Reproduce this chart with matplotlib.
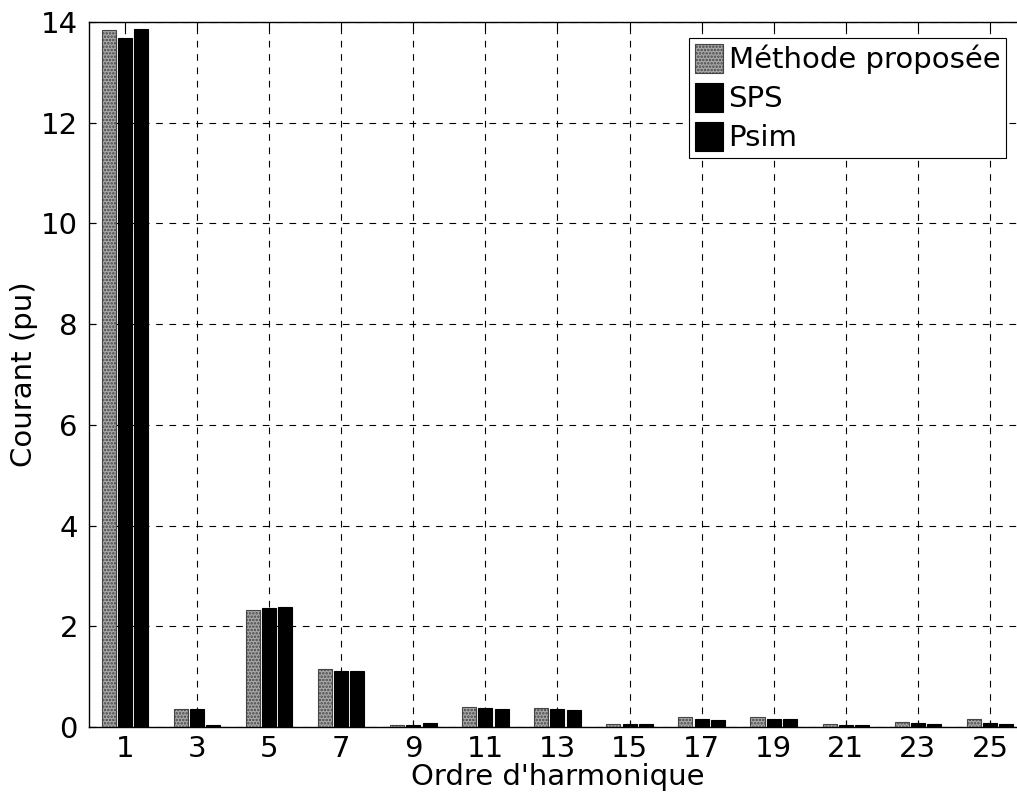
import numpy as np
import matplotlib
matplotlib.use('Agg')
import matplotlib.pyplot as plt

# =============================================================================
# Data
# =============================================================================
HARMONICS = [1, 3, 5, 7, 9, 11, 13, 15, 17, 19, 21, 23, 25]
METHODE = [13.85, 0.36, 2.33, 1.16, 0.03, 0.40, 0.37, 0.06, 0.20, 0.20, 0.06, 0.10, 0.15]
SPS = [13.69, 0.36, 2.37, 1.11, 0.04, 0.37, 0.35, 0.05, 0.16, 0.15, 0.04, 0.07, 0.08]
PSIM = [13.87, 0.04, 2.39, 1.11, 0.07, 0.35, 0.34, 0.05, 0.14, 0.15, 0.04, 0.06, 0.06]
LABELS = ['Méthode proposée', 'SPS', 'Psim']

# =============================================================================
# Plot
# =============================================================================
plt.rcParams['font.family'] = ['DejaVu Sans']
plt.rcParams['hatch.linewidth'] = 1.2

fig = plt.figure(figsize=(10.17, 7.98), dpi=100)
# right edge of the axes runs past the picture, as in the reference
ax = fig.add_axes([0.0875, 0.089, 0.9213, 0.8834])

x = np.array(HARMONICS, dtype=float)
offset = 0.45
width = 0.39
ax.bar(x - offset, METHODE, width, facecolor='#a8a8a8', edgecolor='#454545',
       hatch='.....', linewidth=0.8, label=LABELS[0], zorder=3)
ax.bar(x, SPS, width, color='black', edgecolor='black', linewidth=0.8,
       label=LABELS[1], zorder=3)
ax.bar(x + offset, PSIM, width, color='black', edgecolor='black', linewidth=0.8,
       label=LABELS[2], zorder=3)

ax.set_xlim(0, 26)
ax.set_ylim(0, 14)
ax.set_xticks(HARMONICS)
ax.set_yticks(np.arange(0, 15, 2))
ax.tick_params(direction='in', top=True, right=True, labelsize=21, length=5)
ax.tick_params(axis='x', pad=6)
ax.tick_params(axis='y', pad=8)
ax.grid(True, color='black', linestyle=(0, (6, 6)), linewidth=0.8, zorder=0)
ax.set_axisbelow(True)
for s in ax.spines.values():
    s.set_linewidth(1.0)

ax.set_xlabel("Ordre d'harmonique", fontsize=21, labelpad=0)
ax.set_ylabel('Courant (pu)', fontsize=21, labelpad=2)

leg = ax.legend(loc='upper right', bbox_to_anchor=(1006 / 1017, 1 - 38 / 798),
                bbox_transform=fig.transFigure, fontsize=21, fancybox=False,
                framealpha=1, edgecolor='black', handlelength=0.95,
                handleheight=1.15, handletextpad=0.2, borderpad=0.2,
                labelspacing=0.3, borderaxespad=0)
leg.get_frame().set_linewidth(0.8)

fig.savefig('out.png', dpi=100)
